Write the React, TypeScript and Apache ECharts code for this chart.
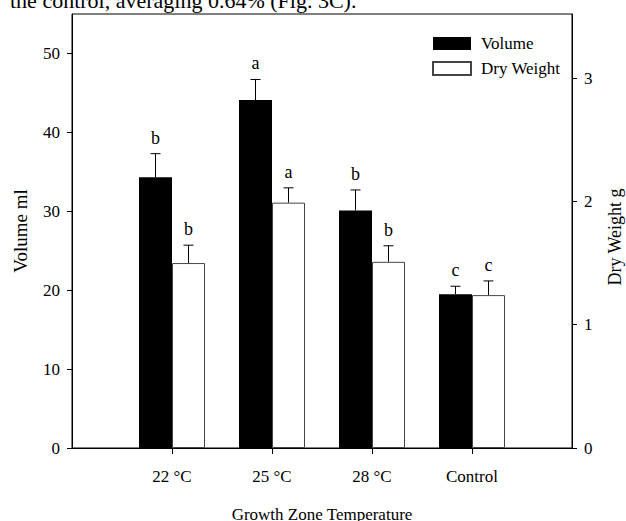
import React, { useEffect, useRef } from "react";
import * as echarts from "echarts";

const categories = ["", "22 °C", "25 °C", "28 °C", "Control", ""];
const volume = [null, 34.3, 44.1, 30.1, 19.5, null];
const volumeErr = [null, 3.0, 2.6, 2.6, 1.0, null];
const volumeLetters = ["", "b", "a", "b", "c", ""];
const dryWeight = [null, 1.5, 1.99, 1.51, 1.24, null];
const dryWeightErr = [null, 0.145, 0.12, 0.13, 0.115, null];
const dryWeightLetters = ["", "b", "a", "b", "c", ""];
const leftTicks = [0, 10, 20, 30, 40, 50];
const rightTicks = [0, 1, 2, 3];
const topText = "the control, averaging 0.64% (Fig. 3C).";

const FONT = '"Liberation Serif", "Times New Roman", serif';
const BAR_W = 33;

function errorSeries(name: string, vals: (number | null)[], errs: (number | null)[], letters: string[], yAxisIndex: number, offset: number) {
  const data: any[] = [];
  vals.forEach((v, i) => {
    if (v != null) data.push([i, v, errs[i], i]);
  });
  return {
    type: "custom",
    name,
    yAxisIndex,
    silent: true,
    encode: { x: 0, y: 1 },
    data,
    renderItem: (params: any, api: any) => {
      const idx = api.value(0);
      const v = api.value(1);
      const e = api.value(2);
      const li = api.value(3);
      const base = api.coord([idx, v]);
      const top = api.coord([idx, v + e]);
      const x = base[0] + offset;
      return {
        type: "group",
        children: [
          { type: "line", shape: { x1: x, y1: base[1], x2: x, y2: top[1] }, style: { stroke: "#000", lineWidth: 1 } },
          { type: "line", shape: { x1: x - 5, y1: top[1], x2: x + 5, y2: top[1] }, style: { stroke: "#000", lineWidth: 1 } },
          {
            type: "text",
            style: {
              text: letters[li],
              x,
              y: top[1] - 7,
              align: "center",
              verticalAlign: "bottom",
              font: `18px ${FONT}`,
              fill: "#000",
            },
          },
        ],
      };
    },
  };
}

export default function App() {
  const ref = useRef<HTMLDivElement>(null);
  useEffect(() => {
    if (!ref.current) return;
    const chart = echarts.init(ref.current, undefined, { renderer: "svg" });
    const axisFont = { fontFamily: FONT, fontSize: 17, color: "#000" };
    chart.setOption({
      animation: false,
      backgroundColor: "#fff",
      textStyle: { fontFamily: FONT },
      grid: {
        left: 72,
        right: 54,
        top: 14,
        bottom: 73,
        outerBoundsMode: "none",
        containLabel: false,
        show: true,
        borderColor: "#000",
        borderWidth: 1,
        backgroundColor: "transparent",
      },
      legend: {
        data: ["Volume", "Dry Weight"],
        orient: "vertical",
        left: 432,
        top: 35,
        padding: 0,
        itemWidth: 38,
        itemHeight: 13,
        itemGap: 8,
        icon: "rect",
        textStyle: { fontFamily: FONT, fontSize: 17, color: "#000", padding: [0, 0, 0, 5] },
      },
      graphic: [
        {
          type: "text",
          x: 10,
          y: 0,
          style: { text: topText, font: `22px ${FONT}`, fill: "#000", verticalAlign: "middle" },
        },
      ],
      xAxis: {
        type: "category",
        data: categories,
        boundaryGap: false,
        axisLine: { lineStyle: { color: "#000", width: 1 } },
        axisTick: { interval: (i: number) => i >= 1 && i <= 4, length: 6, lineStyle: { color: "#000" } },
        axisLabel: { ...axisFont, interval: 0, margin: 20 },
        name: "Growth Zone Temperature",
        nameLocation: "middle",
        nameGap: 58,
        nameTextStyle: { ...axisFont, fontSize: 17 },
        splitLine: { show: false },
      },
      yAxis: [
        {
          type: "value",
          min: 0,
          max: 55,
          interval: 10,
          axisLine: { show: true, lineStyle: { color: "#000" } },
          axisTick: { show: true, length: 5, customValues: leftTicks, lineStyle: { color: "#000" } },
          axisLabel: { ...axisFont, margin: 12, customValues: leftTicks },
          splitLine: { show: false },
          name: "Volume ml",
          nameLocation: "middle",
          nameGap: 42,
          nameRotate: 90,
          nameTextStyle: { ...axisFont, fontSize: 19 },
        },
        {
          type: "value",
          min: 0,
          max: 3.52,
          interval: 1,
          position: "right",
          axisLine: { show: true, lineStyle: { color: "#000" } },
          axisTick: { show: true, length: 5, customValues: rightTicks, lineStyle: { color: "#000" } },
          axisLabel: { ...axisFont, margin: 12, customValues: rightTicks },
          splitLine: { show: false },
          name: "Dry Weight g",
          nameLocation: "middle",
          nameGap: 34,
          nameRotate: 90,
          nameTextStyle: { ...axisFont, fontSize: 18, padding: [0, 12, 0, 0] },
        },
      ],
      series: [
        {
          type: "bar",
          name: "Volume",
          yAxisIndex: 0,
          data: volume,
          barWidth: BAR_W,
          barGap: "0%",
          itemStyle: { color: "#000" },
        },
        {
          type: "bar",
          name: "Dry Weight",
          yAxisIndex: 1,
          data: dryWeight,
          barWidth: BAR_W,
          barGap: "0%",
          itemStyle: { color: "#fff", borderColor: "#444", borderWidth: 1 },
        },
        errorSeries("VolumeErr", volume, volumeErr, volumeLetters, 0, -BAR_W / 2),
        errorSeries("DryWeightErr", dryWeight, dryWeightErr, dryWeightLetters, 1, BAR_W / 2),
      ],
    });
    return () => chart.dispose();
  }, []);
  return <div ref={ref} style={{ position: "fixed", left: 0, top: 0, width: 626, height: 521 }} />;
}
